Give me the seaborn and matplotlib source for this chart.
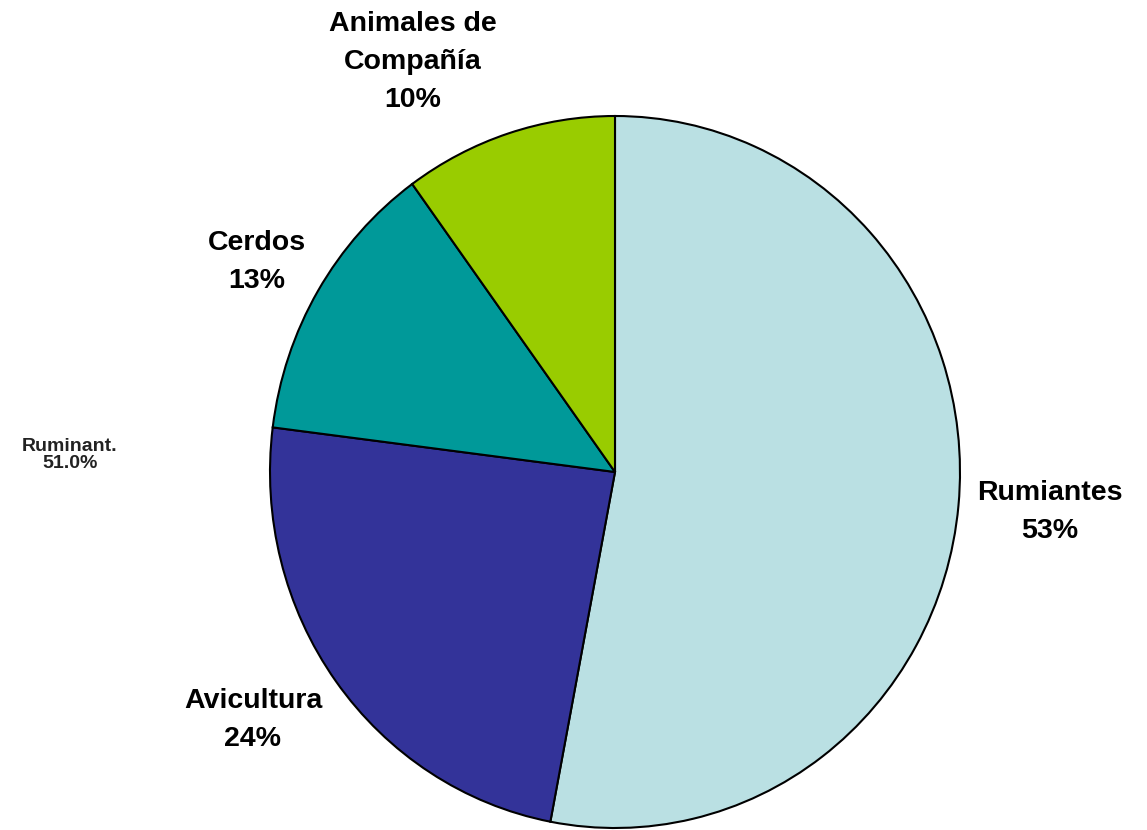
import matplotlib
matplotlib.use("Agg")
import matplotlib.pyplot as plt
import seaborn as sns

# Data
categories = ["Rumiantes", "Avicultura", "Cerdos", "Animales de\nCompañía"]
shares = [53, 24, 13, 10]
colors = ["#BAE0E3", "#333399", "#009999", "#99CC00"]

sns.set_theme(style="white")
plt.rcParams["font.family"] = ["Liberation Sans", "DejaVu Sans"]

fig = plt.figure(figsize=(11.47, 8.30), dpi=100)
W, H = 1147, 830
cx, cy, rx, ry = 615, 472, 345, 356
ax = fig.add_axes([(cx - rx) / W, (H - cy - ry) / H, 2 * rx / W, 2 * ry / H])

ax.pie(
    shares,
    colors=colors,
    startangle=90,
    counterclock=False,
    radius=1,
    wedgeprops={"edgecolor": "black", "linewidth": 1.5},
)
ax.set_aspect("auto")
ax.set_xlim(-1, 1)
ax.set_ylim(-1, 1)
ax.axis("off")

# Label positions (pixel centres in the image)
label_px = [(1050, 512), (253, 720), (257, 262), (413, 62)]

for name, val, (px, py) in zip(categories, shares, label_px):
    ax.text(
        (px - cx) / rx,
        (cy - py) / ry,
        f"{name}\n{val}%",
        ha="center",
        va="center",
        fontsize=20.5,
        fontweight="bold",
        color="black",
        linespacing=1.6,
        clip_on=False,
    )

# stray legacy label
ax.text(
    (70 - cx) / rx,
    (cy - 455) / ry,
    "Ruminant.\n51.0%",
    ha="center",
    va="center",
    fontsize=14,
    fontweight="bold",
    color="#222222",
    linespacing=1.05,
    clip_on=False,
)

fig.savefig("out.png", dpi=100)
